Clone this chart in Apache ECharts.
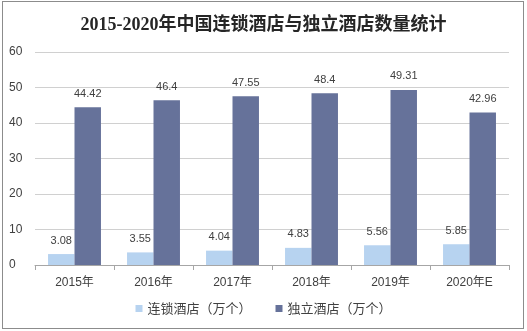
<!DOCTYPE html>
<html><head><meta charset="utf-8">
<script src="https://cdn.jsdelivr.net/npm/echarts@6/dist/echarts.min.js"></script>
<style>
html,body{margin:0;padding:0;background:#fff;}
#frame{position:absolute;left:2px;top:1px;width:520px;height:326px;border:1px solid #8c8c8c;}
#c{position:absolute;left:0;top:0;width:527px;height:331px;}
</style></head>
<body>
<div id="frame"></div>
<div id="c"></div>
<script>
const categories = ['2015年','2016年','2017年','2018年','2019年','2020年E'];
const chainHotels = [3.08, 3.55, 4.04, 4.83, 5.56, 5.85];
const independentHotels = [44.42, 46.4, 47.55, 48.4, 49.31, 42.96];
const seriesNames = ['连锁酒店（万个）','独立酒店（万个）'];
const yTicks = {min:0, max:60, interval:10};

const chart = echarts.init(document.getElementById('c'));
const labelStyle = {show:true, position:'top', distance:8, color:'#404040', fontSize:11, fontFamily:'Arial, "Liberation Sans", sans-serif'};
chart.setOption({
  animation:false,
  title:{text:'2015-2020年中国连锁酒店与独立酒店数量统计', left:'center', top:11,
    textStyle:{fontSize:18, fontWeight:'bold', color:'#262626', fontFamily:'"Liberation Serif", "Noto Sans CJK SC", serif'}},
  grid:{left:35, right:18, top:52, bottom:66, containLabel:false},
  legend:{bottom:11, left:'center', itemWidth:7, itemHeight:7, itemGap:24, icon:'rect',
    textStyle:{fontSize:13, color:'#404040', fontFamily:'"Noto Sans CJK SC", sans-serif'},
    data:seriesNames},
  xAxis:{type:'category', data:categories,
    axisLine:{lineStyle:{color:'#a6a6a6'}},
    axisTick:{show:true, length:5, lineStyle:{color:'#a6a6a6'}},
    axisLabel:{fontSize:12, color:'#404040', margin:12, fontFamily:'Arial, "Liberation Sans", "Noto Sans CJK SC", sans-serif'}},
  yAxis:{type:'value', min:yTicks.min, max:yTicks.max, interval:yTicks.interval,
    axisLine:{show:false}, axisTick:{show:false},
    splitLine:{lineStyle:{color:'#d0d0d0'}},
    axisLabel:{fontSize:12, color:'#404040', margin:26, align:'left', fontFamily:'Arial, "Liberation Sans", sans-serif'}},
  series:[
    {name:seriesNames[0], type:'bar', data:chainHotels, barGap:'0%', barCategoryGap:'33%',
     itemStyle:{color:'#b7d3f0'}, label:labelStyle},
    {name:seriesNames[1], type:'bar', data:independentHotels, barGap:'0%', barCategoryGap:'33%',
     itemStyle:{color:'#66729a'}, label:labelStyle}
  ]
});
</script>
</body></html>
